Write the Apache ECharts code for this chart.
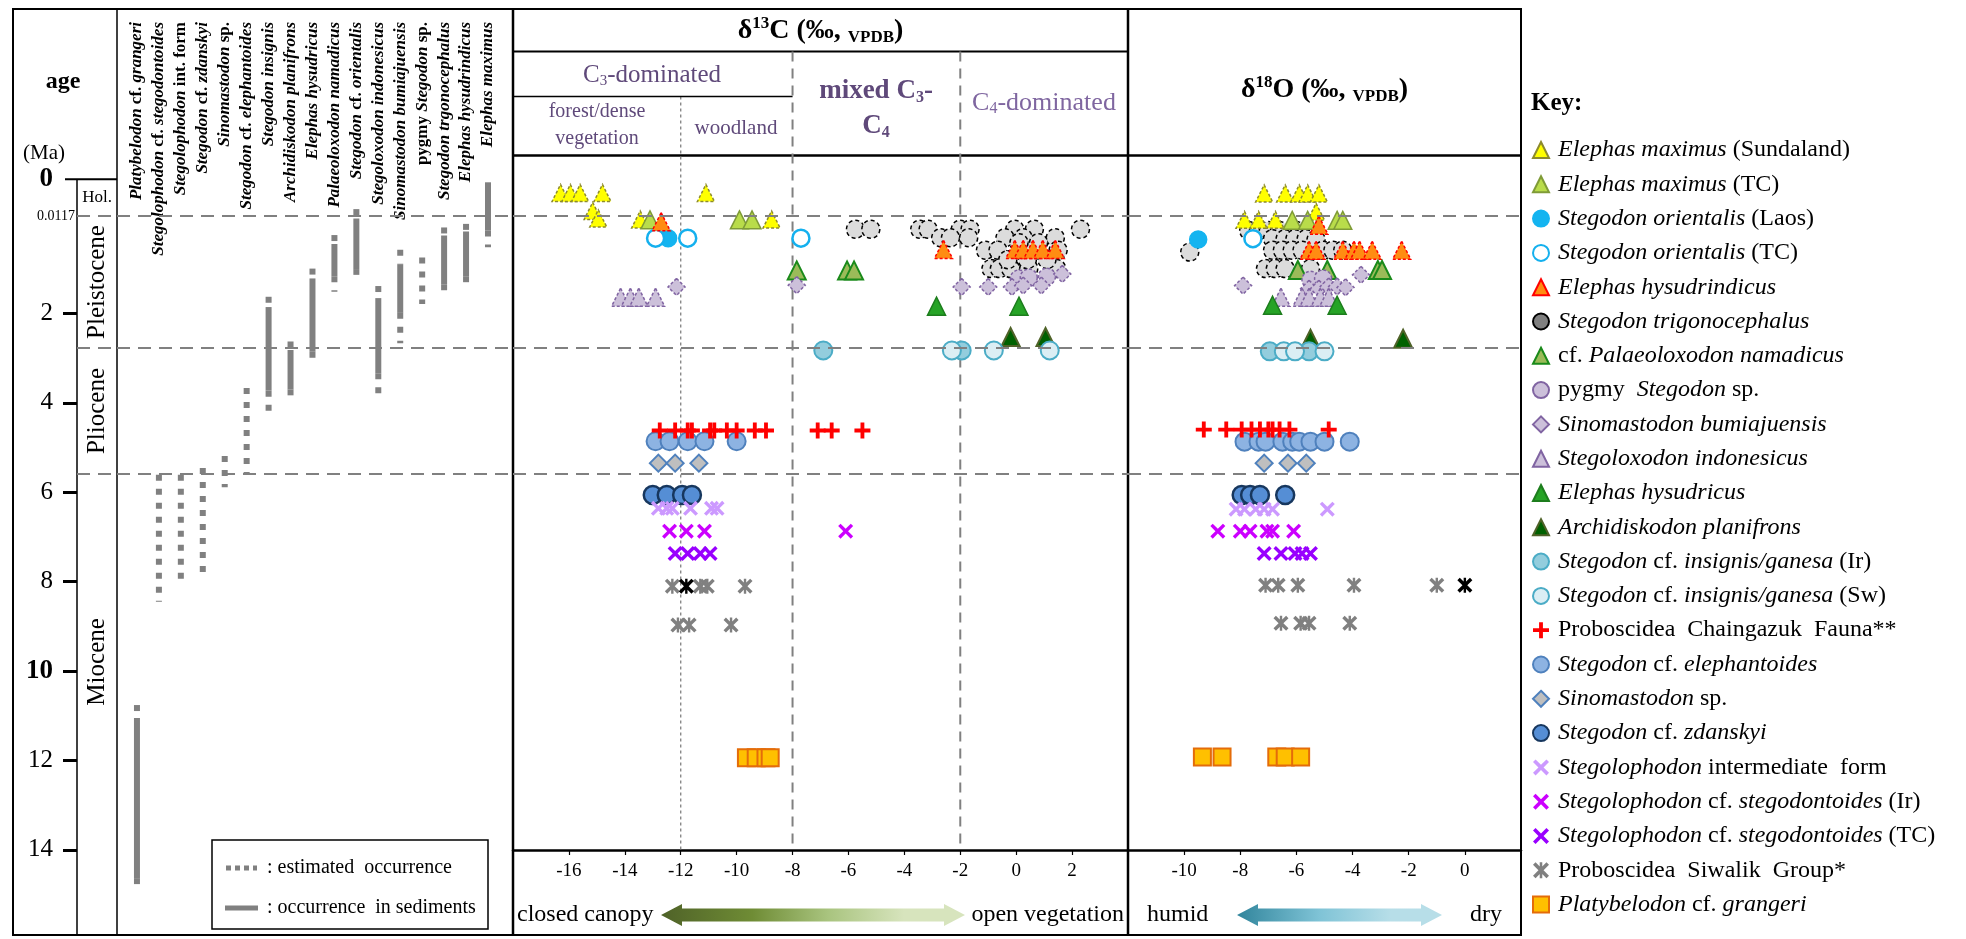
<!DOCTYPE html>
<html>
<head>
<meta charset="utf-8">
<script src="https://cdn.jsdelivr.net/npm/echarts@6/dist/echarts.min.js"></script>
<style>
html, body { margin: 0; padding: 0; background: #fff; }
#chart { width: 1966px; height: 939px; }
</style>
</head>
<body>
<div id="chart"></div>
<script>
const FONT = '"Liberation Serif", "Times New Roman", serif'

// ---- age axis (values in the figure's own age-axis units) ----
const ageTickValues = [2, 4, 6, 8, 10, 12, 14]
const ageLabelValues = [-1, -0.18, 2, 4, 6, 8, 10, 12, 14]
const ageLabelText = ['0', '0.0117', '2', '4', '6', '8', '10', '12', '14']
const epochNames = ['Hol.', 'Pleistocene', 'Pliocene', 'Miocene']
const epochTops = [-1, -0.18, 2.78, 5.59]
const epochBottoms = [-0.18, 2.78, 5.59, 14]
const epochBounds = [-0.18, 2.78, 5.59]
const vegBounds = [-12, -8, -2]

// ---- taxon ranges (column index, from, to) ----
const taxa = [
  '{i|Platybelodon} cf. {i|grangeri}',
  '{i|Stegolophodon} cf. {i|stegodontoides}',
  '{i|Stegolophodon} int. form',
  '{i|Stegodon} cf. {i|zdanskyi}',
  '{i|Sinomastodon} sp.',
  '{i|Stegodon} cf. {i|elephantoides}',
  '{i|Stegodon insignis}',
  '{i|Archidiskodon planifrons}',
  '{i|Elephas hysudricus}',
  '{i|Palaeoloxodon namadicus}',
  '{i|Stegodon} cf. {i|orientalis}',
  '{i|Stegoloxodon indonesicus}',
  '{i|Sinomastodon bumiajuensis}',
  'pygmy {i|Stegodon} sp.',
  '{i|Stegodon trgonocephalus}',
  '{i|Elephas hysudrindicus}',
  '{i|Elephas maximus}'
]
const occurrenceSolid = [
  [0, 11.05, 14.63], [6, 1.86, 3.73], [7, 2.82, 3.7], [8, 1.22, 2.86], [9, 0.45, 1.17],
  [10, -0.12, 1.03], [11, 1.66, 3.34], [12, 0.9, 1.99], [14, 0.26, 1.35], [15, 0.17, 1.17], [16, -0.93, 0.15]
]
const occurrenceEstimated = [
  [0, 10.76, 11.05], [0, 14.63, 14.83], [1, 5.61, 8.45], [2, 5.61, 8.1], [3, 5.46, 7.96],
  [4, 5.19, 5.89], [5, 3.67, 5.57], [6, 1.63, 1.86], [6, 3.73, 4.29], [7, 2.63, 2.82],
  [7, 3.7, 3.88], [8, 1.0, 1.22], [8, 2.86, 3.06], [9, 0.25, 0.45], [9, 1.17, 1.52],
  [10, -0.33, -0.12], [10, 1.03, 1.14], [11, 1.39, 1.66], [11, 3.34, 3.85], [12, 0.58, 0.9],
  [12, 1.99, 2.67], [13, 0.75, 1.79], [14, 0.08, 0.26], [14, 1.35, 1.57], [15, 0.0, 0.17],
  [15, 1.17, 1.48], [16, 0.15, 0.52]
]

// ---- isotope values: [delta, age] ----
const emSundalandC = [[-16.3, -0.69], [-15.95, -0.69], [-15.6, -0.69], [-14.8, -0.69], [-11.1, -0.69], [-15.15, -0.29], [-14.95, -0.12], [-13.45, -0.1], [-8.75, -0.1]]
const emSundalandO = [[-7.15, -0.68], [-6.4, -0.68], [-5.9, -0.68], [-5.6, -0.68], [-5.2, -0.68], [-5.3, -0.27], [-7.85, -0.09], [-7.35, -0.09], [-6.75, -0.09]]
const emTcC = [[-13.1, -0.09], [-9.9, -0.09], [-9.45, -0.09]]
const emTcO = [[-6.15, -0.08], [-5.6, -0.08], [-4.55, -0.08], [-4.35, -0.08]]
const soLaosC = [[-12.45, 0.32]]
const soLaosO = [[-9.5, 0.35]]
const soTcC = [[-12.9, 0.32], [-11.75, 0.32], [-7.7, 0.32]]
const soTcO = [[-7.55, 0.33]]
const ehIndC = [[-12.7, -0.05], [-2.6, 0.57], [-0.05, 0.57], [0.25, 0.57], [0.6, 0.57], [0.95, 0.57], [1.4, 0.57]]
const ehIndO = [[-5.2, 0.03], [-5.55, 0.59], [-5.3, 0.59], [-4.35, 0.59], [-3.95, 0.59], [-3.75, 0.59], [-3.3, 0.59], [-2.25, 0.59]]
const stTrigC = [[-5.75, 0.12], [-5.2, 0.12], [-3.45, 0.12], [-3.15, 0.12], [-2.0, 0.12], [-1.65, 0.12], [-0.05, 0.12], [0.65, 0.12], [2.3, 0.12], [-2.7, 0.31], [-2.35, 0.31], [-1.7, 0.31], [-0.4, 0.31], [0.25, 0.31], [1.4, 0.31], [-1.1, 0.59], [-0.65, 0.59], [0.55, 0.59], [1.5, 0.59], [-0.9, 1.0], [-0.6, 1.0], [-0.2, 1.0], [0.45, 1.0], [1.45, 1.0], [0.1, 0.42], [0.8, 0.42], [-0.3, 0.8], [0.4, 0.8], [1.1, 0.8]]
const stTrigO = [[-9.8, 0.63], [-7.7, 0.15], [-7.35, 0.15], [-7.0, 0.15], [-6.6, 0.15], [-6.0, 0.15], [-6.85, 0.33], [-6.4, 0.33], [-6.05, 0.33], [-5.65, 0.33], [-5.3, 0.35], [-6.85, 0.59], [-6.5, 0.59], [-6.15, 0.59], [-5.8, 0.59], [-5.05, 0.59], [-4.7, 0.59], [-4.35, 0.59], [-7.1, 1.0], [-6.75, 1.0], [-6.4, 1.0], [-5.5, 1.0]]
const pnC = [[-7.85, 1.04], [-6.05, 1.04], [-5.8, 1.04]]
const pnO = [[-5.95, 1.03], [-4.9, 1.03], [-3.1, 1.03], [-2.95, 1.03]]
const pygmyC = [[0.1, 1.22], [0.45, 1.2], [1.1, 1.18]]
const pygmyO = [[-5.5, 1.25], [-5.05, 1.22]]
const sbumC = [[-12.15, 1.41], [-7.85, 1.37], [-1.95, 1.41], [-1.0, 1.41], [-0.15, 1.41], [0.25, 1.38], [0.9, 1.38], [1.65, 1.12]]
const sbumO = [[-7.9, 1.38], [-3.7, 1.14], [-5.55, 1.45], [-5.2, 1.45], [-4.85, 1.4], [-4.55, 1.4], [-4.25, 1.42]]
const sindC = [[-14.15, 1.64], [-13.8, 1.64], [-13.5, 1.64], [-12.9, 1.64]]
const sindO = [[-6.55, 1.64], [-5.8, 1.64], [-5.55, 1.64], [-5.15, 1.64], [-4.85, 1.64]]
const ehysC = [[-2.85, 1.84], [0.1, 1.84]]
const ehysO = [[-6.85, 1.82], [-4.55, 1.82]]
const apC = [[-0.2, 2.53], [1.05, 2.53]]
const apO = [[-5.5, 2.57], [-2.2, 2.57]]
const sigIrC = [[-6.9, 2.83], [-1.95, 2.83]]
const sigIrO = [[-6.95, 2.85], [-5.55, 2.85]]
const sigSwC = [[-2.3, 2.83], [-0.8, 2.83], [1.2, 2.83]]
const sigSwO = [[-6.45, 2.85], [-6.05, 2.85], [-5.0, 2.85]]
const chaingC = [[-12.75, 4.62], [-12.2, 4.62], [-11.75, 4.62], [-11.6, 4.62], [-10.95, 4.62], [-10.8, 4.62], [-10.35, 4.62], [-10.0, 4.62], [-9.35, 4.62], [-8.95, 4.62], [-7.1, 4.62], [-6.6, 4.62], [-5.5, 4.62]]
const chaingO = [[-9.3, 4.6], [-8.5, 4.6], [-7.95, 4.6], [-7.6, 4.6], [-7.3, 4.6], [-7.0, 4.6], [-6.85, 4.6], [-6.6, 4.6], [-6.25, 4.6], [-4.85, 4.6]]
const selC = [[-12.9, 4.86], [-12.4, 4.86], [-11.75, 4.86], [-11.15, 4.86], [-10.0, 4.86]]
const selO = [[-7.85, 4.87], [-7.35, 4.87], [-7.1, 4.87], [-6.5, 4.87], [-6.15, 4.87], [-5.9, 4.87], [-5.5, 4.87], [-5.0, 4.87], [-4.1, 4.87]]
const sinoC = [[-12.8, 5.35], [-12.2, 5.35], [-11.35, 5.35]]
const sinoO = [[-7.15, 5.35], [-6.3, 5.35], [-5.65, 5.35]]
const szdC = [[-13.0, 6.06], [-12.5, 6.06], [-11.95, 6.06], [-11.6, 6.06]]
const szdO = [[-7.95, 6.06], [-7.65, 6.06], [-7.3, 6.06], [-6.4, 6.06]]
const sintC = [[-12.8, 6.36], [-12.5, 6.36], [-12.3, 6.36], [-11.65, 6.36], [-10.9, 6.36], [-10.7, 6.36]]
const sintO = [[-8.15, 6.38], [-7.85, 6.38], [-7.45, 6.38], [-7.15, 6.38], [-6.85, 6.38], [-4.9, 6.38]]
const sstIrC = [[-12.4, 6.87], [-11.8, 6.87], [-11.15, 6.87], [-6.1, 6.87]]
const sstIrO = [[-8.8, 6.87], [-8.0, 6.87], [-7.65, 6.87], [-7.05, 6.87], [-6.85, 6.87], [-6.1, 6.87]]
const sstTcC = [[-12.2, 7.37], [-11.75, 7.37], [-11.3, 7.37], [-10.95, 7.37]]
const sstTcO = [[-7.15, 7.37], [-6.55, 7.37], [-6.05, 7.37], [-5.8, 7.37], [-5.5, 7.37]]
const siwC = [[-12.3, 8.1], [-11.3, 8.1], [-11.05, 8.1], [-9.7, 8.1], [-12.1, 8.97], [-11.7, 8.97], [-10.2, 8.97]]
const siwO = [[-7.1, 8.08], [-6.65, 8.08], [-5.95, 8.08], [-3.95, 8.08], [-1.0, 8.08], [-6.55, 8.93], [-5.85, 8.93], [-5.55, 8.93], [-4.1, 8.93]]
const siwBlackC = [[-11.8, 8.1]]
const siwBlackO = [[0.0, 8.08]]
const platyC = [[-9.65, 11.94], [-9.3, 11.94], [-8.95, 11.94], [-8.8, 11.94]]
const platyO = [[-9.35, 11.92], [-8.65, 11.92], [-6.7, 11.92], [-6.4, 11.92], [-5.85, 11.92]]

const keyNames = [
  'Elephas maximus (Sundaland)', 'Elephas maximus (TC)', 'Stegodon orientalis (Laos)', 'Stegodon orientalis (TC)',
  'Elephas hysudrindicus', 'Stegodon trigonocephalus', 'cf. Palaeoloxodon namadicus', 'pygmy Stegodon sp.',
  'Sinomastodon bumiajuensis', 'Stegoloxodon indonesicus', 'Elephas hysudricus', 'Archidiskodon planifrons',
  'Stegodon cf. insignis/ganesa (Ir)', 'Stegodon cf. insignis/ganesa (Sw)', 'Proboscidea Chaingazuk Fauna**',
  'Stegodon cf. elephantoides', 'Sinomastodon sp.', 'Stegodon cf. zdanskyi', 'Stegolophodon intermediate form',
  'Stegolophodon cf. stegodontoides (Ir)', 'Stegolophodon cf. stegodontoides (TC)', 'Proboscidea Siwalik Group*',
  'Platybelodon cf. grangeri'
]
const keyLabels = [
  '{i|Elephas maximus} (Sundaland)', '{i|Elephas maximus} (TC)', '{i|Stegodon orientalis} (Laos)', '{i|Stegodon orientalis} (TC)',
  '{i|Elephas hysudrindicus}', '{i|Stegodon trigonocephalus}', 'cf. {i|Palaeoloxodon namadicus}', 'pygmy  {i|Stegodon} sp.',
  '{i|Sinomastodon bumiajuensis}', '{i|Stegoloxodon indonesicus}', '{i|Elephas hysudricus}', '{i|Archidiskodon planifrons}',
  '{i|Stegodon} cf. {i|insignis/ganesa} (Ir)', '{i|Stegodon} cf. {i|insignis/ganesa} (Sw)', 'Proboscidea  Chaingazuk  Fauna**',
  '{i|Stegodon} cf. {i|elephantoides}', '{i|Sinomastodon} sp.', '{i|Stegodon} cf. {i|zdanskyi}', '{i|Stegolophodon} intermediate  form',
  '{i|Stegolophodon} cf. {i|stegodontoides} (Ir)', '{i|Stegolophodon} cf. {i|stegodontoides} (TC)', 'Proboscidea  Siwalik  Group*',
  '{i|Platybelodon} cf. {i|grangeri}'
]

const PLUS = 'path://M38,0H62V38H100V62H62V100H38V62H0V38H38Z'
const CROSS = 'path://M16,0L50,34L84,0L100,16L66,50L100,84L84,100L50,66L16,100L0,84L34,50L0,16Z'
const STAR = 'path://M16,0L50,34L84,0L100,16L66,50L100,84L84,100L50,66L16,100L0,84L34,50L0,16Z M42,0H58V100H42Z'

// marker styles, by key name
const markers = {
  'Elephas maximus (Sundaland)': ['triangle', 17, '#ffff00', '#8c8a2e', 1.5, [3, 2]],
  'Elephas maximus (TC)': ['triangle', 18, '#b9dc4a', '#7f9b37', 1.5, null],
  'Stegodon orientalis (Laos)': ['circle', 17, '#14b4f0', '#14b4f0', 1.5, null],
  'Stegodon orientalis (TC)': ['circle', 17, '#ffffff', '#14b0ee', 2.5, null],
  'Elephas hysudrindicus': ['triangle', 18, '#ff8c12', '#ff0000', 1.5, [3, 2]],
  'Stegodon trigonocephalus': ['circle', 18, '#dcdcdc', '#000000', 1.5, [4, 3]],
  'cf. Palaeoloxodon namadicus': ['triangle', 18, '#9bbb59', '#1a8a1a', 2, null],
  'pygmy Stegodon sp.': ['circle', 17, '#ccc0da', '#8064a2', 1.5, [3, 2]],
  'Sinomastodon bumiajuensis': ['diamond', 17, '#ccc0da', '#8064a2', 1.5, [3, 2]],
  'Stegoloxodon indonesicus': ['triangle', 18, '#ccc0da', '#8064a2', 1.5, [3, 2]],
  'Elephas hysudricus': ['triangle', 18, '#26a326', '#1d7d1d', 1.5, null],
  'Archidiskodon planifrons': ['triangle', 18, '#006100', '#4f6228', 2, null],
  'Stegodon cf. insignis/ganesa (Ir)': ['circle', 18, '#93cddd', '#4bacc6', 2, null],
  'Stegodon cf. insignis/ganesa (Sw)': ['circle', 18, '#dbeef4', '#4bacc6', 2, null],
  'Proboscidea Chaingazuk Fauna**': [PLUS, 16, '#ff0000', '#ff0000', 0, null],
  'Stegodon cf. elephantoides': ['circle', 18, '#8db3e2', '#4f81bd', 2, null],
  'Sinomastodon sp.': ['diamond', 17, '#bfbfbf', '#4f81bd', 2, null],
  'Stegodon cf. zdanskyi': ['circle', 18, '#558ed5', '#17375e', 2.5, null],
  'Stegolophodon intermediate form': [CROSS, 15, '#cc99ff', '#cc99ff', 0, null],
  'Stegolophodon cf. stegodontoides (Ir)': [CROSS, 15, '#cc00ff', '#cc00ff', 0, null],
  'Stegolophodon cf. stegodontoides (TC)': [CROSS, 15, '#9900ff', '#9900ff', 0, null],
  'Proboscidea Siwalik Group*': [STAR, 15, '#808080', '#808080', 0, null],
  'Platybelodon cf. grangeri': ['rect', 17, '#ffc000', '#e46c0a', 2, null]
}

// draw order (later on top)
const plotSeries = [
  ['Stegodon trigonocephalus', stTrigC, stTrigO],
  ['Elephas maximus (Sundaland)', emSundalandC, emSundalandO],
  ['Elephas maximus (TC)', emTcC, emTcO],
  ['Stegodon orientalis (Laos)', soLaosC, soLaosO],
  ['Stegodon orientalis (TC)', soTcC, soTcO],
  ['Elephas hysudrindicus', ehIndC, ehIndO],
  ['cf. Palaeoloxodon namadicus', pnC, pnO],
  ['pygmy Stegodon sp.', pygmyC, pygmyO],
  ['Sinomastodon bumiajuensis', sbumC, sbumO],
  ['Stegoloxodon indonesicus', sindC, sindO],
  ['Elephas hysudricus', ehysC, ehysO],
  ['Archidiskodon planifrons', apC, apO],
  ['Stegodon cf. insignis/ganesa (Ir)', sigIrC, sigIrO],
  ['Stegodon cf. insignis/ganesa (Sw)', sigSwC, sigSwO],
  ['Stegodon cf. elephantoides', selC, selO],
  ['Proboscidea Chaingazuk Fauna**', chaingC, chaingO],
  ['Sinomastodon sp.', sinoC, sinoO],
  ['Stegodon cf. zdanskyi', szdC, szdO],
  ['Stegolophodon intermediate form', sintC, sintO],
  ['Stegolophodon cf. stegodontoides (Ir)', sstIrC, sstIrO],
  ['Stegolophodon cf. stegodontoides (TC)', sstTcC, sstTcO],
  ['Proboscidea Siwalik Group*', siwC, siwO],
  ['Platybelodon cf. grangeri', platyC, platyO]
]

// layout (px)
const L = {
  left: 13, top: 9, right: 1521, bottom: 935,
  epochL: 77, taxaL: 117, cL: 513, oL: 1128,
  titleLine: 51.4, c3Line: 96.5, headLine: 155.5,
  plotTop: 156.8, plotH: 693.2, fullH: 778.1
}

const chart = echarts.init(document.getElementById('chart'))

function scatter (name, data, idx, colorOverride) {
  const m = markers[name]
  return {
    type: 'scatter', name, data, xAxisIndex: idx, yAxisIndex: idx, silent: true,
    symbol: m[0], symbolSize: m[1],
    itemStyle: {
      color: colorOverride || m[2], borderColor: colorOverride || m[3],
      borderWidth: m[4], borderType: m[5] || 'solid', opacity: 1
    }
  }
}

function boundaryLines (idx) {
  return {
    type: 'scatter', data: [], xAxisIndex: idx, yAxisIndex: idx, silent: true,
    markLine: {
      silent: true, symbol: ['none', 'none'], label: { show: false },
      lineStyle: { color: '#808080', width: 2, type: [13, 8] },
      data: epochBounds.map(v => ({ yAxis: v }))
    }
  }
}

const taxonRich = {
  i: { fontFamily: FONT, fontSize: 17, fontWeight: 'bold', fontStyle: 'italic', fill: '#000' }
}
const headColor = '#5f497a'

const series = [
  boundaryLines(0), boundaryLines(1), boundaryLines(2), boundaryLines(3),
  {
    type: 'custom', xAxisIndex: 0, yAxisIndex: 0, silent: true,
    data: epochNames.map((n, i) => [0.5, epochTops[i], epochBottoms[i]]),
    renderItem (params, api) {
      const i = params.dataIndex
      const a = api.coord([0.5, api.value(1)])
      const b = api.coord([0.5, api.value(2)])
      const children = [{
        type: 'text', x: a[0], y: (a[1] + b[1]) / 2, rotation: i === 0 ? 0 : Math.PI / 2,
        style: { text: epochNames[i], fontFamily: FONT, fontSize: i === 0 ? 17 : 25, fill: '#000', align: 'center', verticalAlign: 'middle' }
      }]
      if (i === 0) {
        const l = api.coord([0, api.value(1)])
        const r = api.coord([1, api.value(1)])
        children.push({ type: 'line', shape: { x1: l[0] - 12, y1: l[1], x2: r[0], y2: r[1] }, style: { stroke: '#000', lineWidth: 2 } })
        children.push({ type: 'line', shape: { x1: l[0], y1: l[1], x2: l[0], y2: L.bottom }, style: { stroke: '#000', lineWidth: 1.5 } })
      }
      return { type: 'group', children }
    }
  },
  {
    type: 'custom', xAxisIndex: 1, yAxisIndex: 1, silent: true,
    data: taxa.map((t, i) => [i, 0]),
    renderItem (params, api) {
      const p = api.coord([api.value(0), 0])
      return {
        type: 'text', x: p[0], y: 22, rotation: Math.PI / 2,
        style: { text: taxa[params.dataIndex], rich: taxonRich, fontFamily: FONT, fontSize: 17, fontWeight: 'bold', fill: '#000', align: 'right', verticalAlign: 'middle' }
      }
    }
  },
  {
    type: 'custom', xAxisIndex: 1, yAxisIndex: 1, silent: true,
    data: occurrenceSolid.map(r => r.concat(0)).concat(occurrenceEstimated.map(r => r.concat(1))),
    renderItem (params, api) {
      const a = api.coord([api.value(0), api.value(1)])
      const b = api.coord([api.value(0), api.value(2)])
      const est = api.value(3) === 1
      return {
        type: 'line', shape: { x1: a[0], y1: a[1], x2: b[0], y2: b[1] },
        style: { stroke: '#808080', lineWidth: 6, lineDash: est ? [6, 8] : null, lineCap: 'butt' }
      }
    }
  },
  {
    type: 'custom', xAxisIndex: 2, yAxisIndex: 2, silent: true, z: 1,
    data: vegBounds.map(v => [v, 14]),
    renderItem (params, api) {
      const p = api.coord([api.value(0), 14])
      const dotted = params.dataIndex === 0
      const children = [{
        type: 'line', shape: { x1: p[0], y1: dotted ? L.c3Line : L.titleLine, x2: p[0], y2: p[1] },
        style: { stroke: '#808080', lineWidth: dotted ? 1.3 : 2, lineDash: dotted ? [3, 3] : [10, 7] }
      }]
      if (params.dataIndex === 1) {
        children.push({ type: 'line', shape: { x1: L.cL, y1: L.c3Line, x2: p[0], y2: L.c3Line }, style: { stroke: '#000', lineWidth: 1.5 } })
      }
      return { type: 'group', children }
    }
  }
]

plotSeries.forEach(([name, c, o]) => {
  series.push(scatter(name, c, 2))
  series.push(scatter(name, o, 3))
})
series.push(scatter('Proboscidea Siwalik Group*', siwBlackC, 2, '#000000'))
series.push(scatter('Proboscidea Siwalik Group*', siwBlackO, 3, '#000000'))

const ageFormatter = v => {
  const i = ageLabelValues.findIndex(a => Math.abs(a - v) < 1e-6)
  if (i < 0) return ''
  const t = ageLabelText[i]
  if (t === '0' || t === '10') return '{b|' + t + '}'
  if (t === '0.0117') return '{s|' + t + '}'
  return '{n|' + t + '}'
}

const xIsoAxis = (idx, min, max) => ({
  gridIndex: idx, type: 'value', min, max, interval: 2,
  axisLine: { show: true, onZero: false, lineStyle: { color: '#000', width: 2.5 } },
  axisTick: { show: true, length: 5, lineStyle: { color: '#000', width: 1.2 } },
  axisLabel: { showMinLabel: false, showMaxLabel: false, margin: 12, fontFamily: FONT, fontSize: 19, color: '#000' },
  splitLine: { show: false }
})

const textEl = (x, y, text, style) => ({
  type: 'text', silent: true, x, y,
  style: Object.assign({ text, fontFamily: FONT, fontSize: 20, fill: '#000', align: 'center', verticalAlign: 'middle' }, style)
})
const lineEl = (x1, y1, x2, y2, w, stroke) => ({
  type: 'line', silent: true, shape: { x1, y1, x2, y2 }, style: { stroke: stroke || '#000', lineWidth: w }
})
const arrowEl = (x1, x2, y, stops) => {
  const h = 21, hw = 11, sw = 6.5
  return {
    type: 'polygon', silent: true,
    shape: { points: [[x1, y], [x1 + h, y - hw], [x1 + h, y - sw], [x2 - h, y - sw], [x2 - h, y - hw], [x2, y], [x2 - h, y + hw], [x2 - h, y + sw], [x1 + h, y + sw], [x1 + h, y + hw]] },
    style: { fill: new echarts.graphic.LinearGradient(0, 0, 1, 0, stops) }
  }
}

const supRich = (size, bold, color) => ({
  b: { fontFamily: FONT, fontSize: size, fontWeight: bold ? 'bold' : 'normal', fill: color, lineHeight: size + 8, verticalAlign: 'middle' },
  sup: { fontFamily: FONT, fontSize: Math.round(size * 0.6), fontWeight: bold ? 'bold' : 'normal', fill: color, lineHeight: size + 8, verticalAlign: 'top', padding: [2, 0, 0, 0] },
  sub: { fontFamily: FONT, fontSize: Math.round(size * 0.6), fontWeight: bold ? 'bold' : 'normal', fill: color, lineHeight: size + 8, verticalAlign: 'bottom', padding: [0, 0, 3, 0] }
})

const graphic = [
  { type: 'rect', silent: true, shape: { x: L.left, y: L.top, width: L.right - L.left, height: L.bottom - L.top }, style: { fill: 'none', stroke: '#000', lineWidth: 2 } },
  lineEl(L.taxaL, L.top, L.taxaL, L.bottom, 1.5),
  lineEl(L.cL, L.top, L.cL, L.bottom, 2.5),
  lineEl(L.oL, L.top, L.oL, L.bottom, 2.5),
  lineEl(L.cL, L.titleLine, L.oL, L.titleLine, 2),
  lineEl(L.cL, L.headLine, L.right, L.headLine, 2.5),
  textEl(63, 82, 'age', { fontSize: 24, fontWeight: 'bold' }),
  textEl(44, 153, '(Ma)', { fontSize: 21 }),
  textEl((L.cL + L.oL) / 2, 31, '{b|δ}{sup|13}{b|C (‰, }{sub|VPDB}{b|)}', { rich: supRich(28, true, '#000') }),
  textEl((L.oL + L.right) / 2, 90, '{b|δ}{sup|18}{b|O (‰, }{sub|VPDB}{b|)}', { rich: supRich(28, true, '#000') }),
  textEl(652, 75, '{b|C}{sub|3}{b|-dominated}', { rich: supRich(25, false, headColor) }),
  textEl(597, 125, 'forest/dense\nvegetation', { fontSize: 20, fill: headColor, lineHeight: 27 }),
  textEl(736, 128, 'woodland', { fontSize: 21, fill: headColor }),
  textEl(876, 109, '{b|mixed C}{sub|3}{b|-}\n{b|C}{sub|4}', { rich: supRich(27, true, headColor) }),
  textEl(1044, 103, '{b|C}{sub|4}{b|-dominated}', { rich: supRich(26, false, '#7f66a0') }),
  textEl(1531, 104, 'Key:', { fontSize: 25, fontWeight: 'bold', align: 'left' }),
  // occurrence legend box
  { type: 'rect', silent: true, shape: { x: 212, y: 840, width: 276, height: 89 }, style: { fill: '#fff', stroke: '#000', lineWidth: 1.5 } },
  { type: 'line', silent: true, shape: { x1: 226, y1: 868, x2: 257, y2: 868 }, style: { stroke: '#808080', lineWidth: 5, lineDash: [5, 4] } },
  { type: 'line', silent: true, shape: { x1: 225, y1: 908, x2: 258, y2: 908 }, style: { stroke: '#808080', lineWidth: 5 } },
  textEl(267, 868, ': estimated  occurrence', { fontSize: 20, align: 'left' }),
  textEl(267, 908, ': occurrence  in sediments', { fontSize: 20, align: 'left' }),
  // bottom arrows
  textEl(517, 915, 'closed canopy', { fontSize: 24, align: 'left' }),
  textEl(1124, 915, 'open vegetation', { fontSize: 24, align: 'right' }),
  arrowEl(661, 965, 915, [{ offset: 0, color: '#4f6228' }, { offset: 0.3, color: '#6f8c35' }, { offset: 0.55, color: '#a9c47f' }, { offset: 0.8, color: '#d7e4bd' }, { offset: 1, color: '#d7e4bd' }]),
  textEl(1147, 915, 'humid', { fontSize: 24, align: 'left' }),
  textEl(1502, 915, 'dry', { fontSize: 24, align: 'right' }),
  arrowEl(1237, 1442, 915, [{ offset: 0, color: '#31859c' }, { offset: 0.4, color: '#7fc3d6' }, { offset: 0.75, color: '#b7dee8' }, { offset: 1, color: '#b7dee8' }])
]

chart.setOption({
  animation: false,
  backgroundColor: '#fff',
  textStyle: { fontFamily: FONT },
  grid: [
    { left: L.epochL, top: L.plotTop, width: L.taxaL - L.epochL, height: L.fullH },
    { left: L.taxaL, top: L.plotTop, width: L.cL - L.taxaL, height: L.fullH },
    { left: L.cL, top: L.plotTop, width: L.oL - L.cL, height: L.plotH },
    { left: L.oL, top: L.plotTop, width: L.right - L.oL, height: L.plotH }
  ],
  xAxis: [
    { gridIndex: 0, type: 'value', min: 0, max: 1, show: false },
    { gridIndex: 1, type: 'value', min: -0.91, max: 17.14, show: false },
    xIsoAxis(2, -18, 4),
    xIsoAxis(3, -12, 2)
  ],
  yAxis: [
    {
      gridIndex: 0, type: 'value', inverse: true, min: -1.5, max: 15.9, position: 'left',
      axisLine: { show: false, onZero: false },
      axisTick: { show: true, customValues: ageTickValues, length: 14, lineStyle: { color: '#000', width: 3 } },
      axisLabel: {
        customValues: ageLabelValues, margin: 2, formatter: ageFormatter,
        rich: {
          b: { fontFamily: FONT, fontSize: 27, fontWeight: 'bold', color: '#000', padding: [0, 22, 0, 0] },
          n: { fontFamily: FONT, fontSize: 25, color: '#000', padding: [0, 22, 0, 0] },
          s: { fontFamily: FONT, fontSize: 14, color: '#000' }
        }
      },
      splitLine: { show: false }
    },
    { gridIndex: 1, type: 'value', inverse: true, min: -1.5, max: 15.9, show: false },
    { gridIndex: 2, type: 'value', inverse: true, min: -1.5, max: 14, show: false },
    { gridIndex: 3, type: 'value', inverse: true, min: -1.5, max: 14, show: false }
  ],
  legend: {
    orient: 'vertical', left: 1532, top: 138, padding: 0,
    itemWidth: 16, itemHeight: 16, itemGap: 10.3,
    selectedMode: false,
    data: keyNames.map(n => n === 'Stegodon trigonocephalus'
      ? { name: n, itemStyle: { color: '#7f7f7f' } }
      : n),
    formatter: name => keyLabels[keyNames.indexOf(name)],
    textStyle: {
      fontFamily: FONT, fontSize: 24, color: '#000', lineHeight: 24, padding: [0, 0, 0, 4],
      rich: { i: { fontFamily: FONT, fontSize: 24, fontStyle: 'italic', color: '#000', lineHeight: 24 } }
    }
  },
  graphic,
  series
})
</script>
</body>
</html>
